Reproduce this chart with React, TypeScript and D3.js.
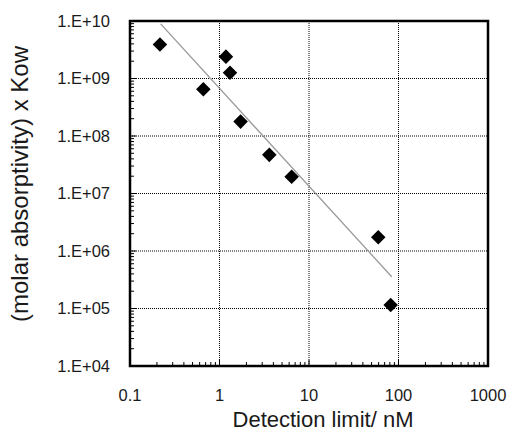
import React, { useRef, useEffect } from 'react';
import * as d3 from 'd3';

// detection limit (nM) vs molar absorptivity x Kow
const detectionLimit = [0.216, 0.66, 1.18, 1.31, 1.72, 3.6, 6.4, 59.4, 81.8];
const absorptivityKow = [3.9e9, 6.5e8, 2.4e9, 1.26e9, 1.78e8, 4.7e7, 1.96e7, 1.73e6, 1.15e5];

// fitted trend line end points
const trendX = [0.22, 84];
const trendY = [8.9e9, 3.57e5];

const xTicks = [0.1, 1, 10, 100, 1000];
const xTickLabels = ['0.1', '1', '10', '100', '1000'];
const yTicks = [1e4, 1e5, 1e6, 1e7, 1e8, 1e9, 1e10];
const yTickLabels = ['1.E+04', '1.E+05', '1.E+06', '1.E+07', '1.E+08', '1.E+09', '1.E+10'];

const W = 512;
const H = 432;
const margin = { top: 21, right: 24, bottom: 66, left: 130 };

function App() {
  const svgRef = useRef<SVGSVGElement>(null);

  useEffect(() => {
    document.body.style.margin = '0';
    const svg = d3.select(svgRef.current);
    svg.selectAll('*').remove();

    const x = d3.scaleLog().domain([0.1, 1000]).range([margin.left, W - margin.right]);
    const y = d3.scaleLog().domain([1e4, 1e10]).range([H - margin.bottom, margin.top]);
    const font = 'Liberation Sans, Arial, sans-serif';

    // grid
    const grid = svg.append('g');
    grid.selectAll('.gx')
      .data(xTicks.slice(1, -1))
      .join('line')
      .attr('x1', (d) => x(d)).attr('x2', (d) => x(d))
      .attr('y1', margin.top).attr('y2', H - margin.bottom)
      .attr('stroke', '#000').attr('stroke-width', 1).attr('stroke-dasharray', '1,1');
    grid.selectAll('.gy')
      .data(yTicks.slice(1, -1))
      .join('line')
      .attr('y1', (d) => y(d)).attr('y2', (d) => y(d))
      .attr('x1', margin.left).attr('x2', W - margin.right)
      .attr('stroke', '#000').attr('stroke-width', 1).attr('stroke-dasharray', '1,1');

    // minor + major ticks (inside)
    const xMinor: number[] = [];
    const yMinor: number[] = [];
    for (let e = -1; e < 3; e++) for (let m = 2; m < 10; m++) xMinor.push(m * Math.pow(10, e));
    for (let e = 4; e < 10; e++) for (let m = 2; m < 10; m++) yMinor.push(m * Math.pow(10, e));

    svg.append('g').selectAll('line')
      .data(xMinor)
      .join('line')
      .attr('x1', (d) => x(d)).attr('x2', (d) => x(d))
      .attr('y1', H - margin.bottom).attr('y2', H - margin.bottom - 4)
      .attr('stroke', '#000');
    svg.append('g').selectAll('line')
      .data(xTicks)
      .join('line')
      .attr('x1', (d) => x(d)).attr('x2', (d) => x(d))
      .attr('y1', H - margin.bottom).attr('y2', H - margin.bottom - 6)
      .attr('stroke', '#000');
    svg.append('g').selectAll('line')
      .data(yMinor)
      .join('line')
      .attr('y1', (d) => y(d)).attr('y2', (d) => y(d))
      .attr('x1', margin.left).attr('x2', margin.left + 4)
      .attr('stroke', '#000');
    svg.append('g').selectAll('line')
      .data(yTicks)
      .join('line')
      .attr('y1', (d) => y(d)).attr('y2', (d) => y(d))
      .attr('x1', margin.left).attr('x2', margin.left + 6)
      .attr('stroke', '#000');

    // frame
    svg.append('rect')
      .attr('x', margin.left).attr('y', margin.top)
      .attr('width', W - margin.left - margin.right)
      .attr('height', H - margin.top - margin.bottom)
      .attr('fill', 'none').attr('stroke', '#000').attr('stroke-width', 2.5);

    // trend line
    svg.append('line')
      .attr('x1', x(trendX[0])).attr('y1', y(trendY[0]))
      .attr('x2', x(trendX[1])).attr('y2', y(trendY[1]))
      .attr('stroke', '#999').attr('stroke-width', 1.3);

    // points
    const diamond = d3.symbol().type(d3.symbolDiamond2).size(135);
    svg.append('g').selectAll('path')
      .data(detectionLimit.map((d, i) => ({ x: d, y: absorptivityKow[i] })))
      .join('path')
      .attr('d', diamond)
      .attr('transform', (d) => `translate(${x(d.x)},${y(d.y)})`)
      .attr('fill', '#000');

    // tick labels
    svg.append('g').selectAll('text')
      .data(xTicks)
      .join('text')
      .attr('x', (d) => x(d)).attr('y', 401)
      .attr('text-anchor', 'middle')
      .attr('font-family', font).attr('font-size', 16.5).attr('fill', '#1a1a1a')
      .text((d, i) => xTickLabels[i]);
    svg.append('g').selectAll('text')
      .data(yTicks)
      .join('text')
      .attr('x', 110).attr('y', (d) => y(d))
      .attr('dy', '0.36em')
      .attr('text-anchor', 'end')
      .attr('font-family', font).attr('font-size', 16.5).attr('fill', '#1a1a1a')
      .text((d, i) => yTickLabels[i]);

    // axis titles
    svg.append('text')
      .attr('x', 323).attr('y', 427)
      .attr('text-anchor', 'middle')
      .attr('font-family', font).attr('font-size', 22).attr('fill', '#1a1a1a')
      .text('Detection limit/ nM');
    svg.append('text')
      .attr('transform', `translate(28,184) rotate(-90)`)
      .attr('text-anchor', 'middle')
      .attr('font-family', font).attr('font-size', 24).attr('fill', '#1a1a1a')
      .text('(molar absorptivity) x Kow');
  }, []);

  return (
    <div className='root'>
      <svg ref={svgRef} width={W} height={H} style={{ display: 'block', background: '#fff' }}></svg>
    </div>
  );
}

export default App;
